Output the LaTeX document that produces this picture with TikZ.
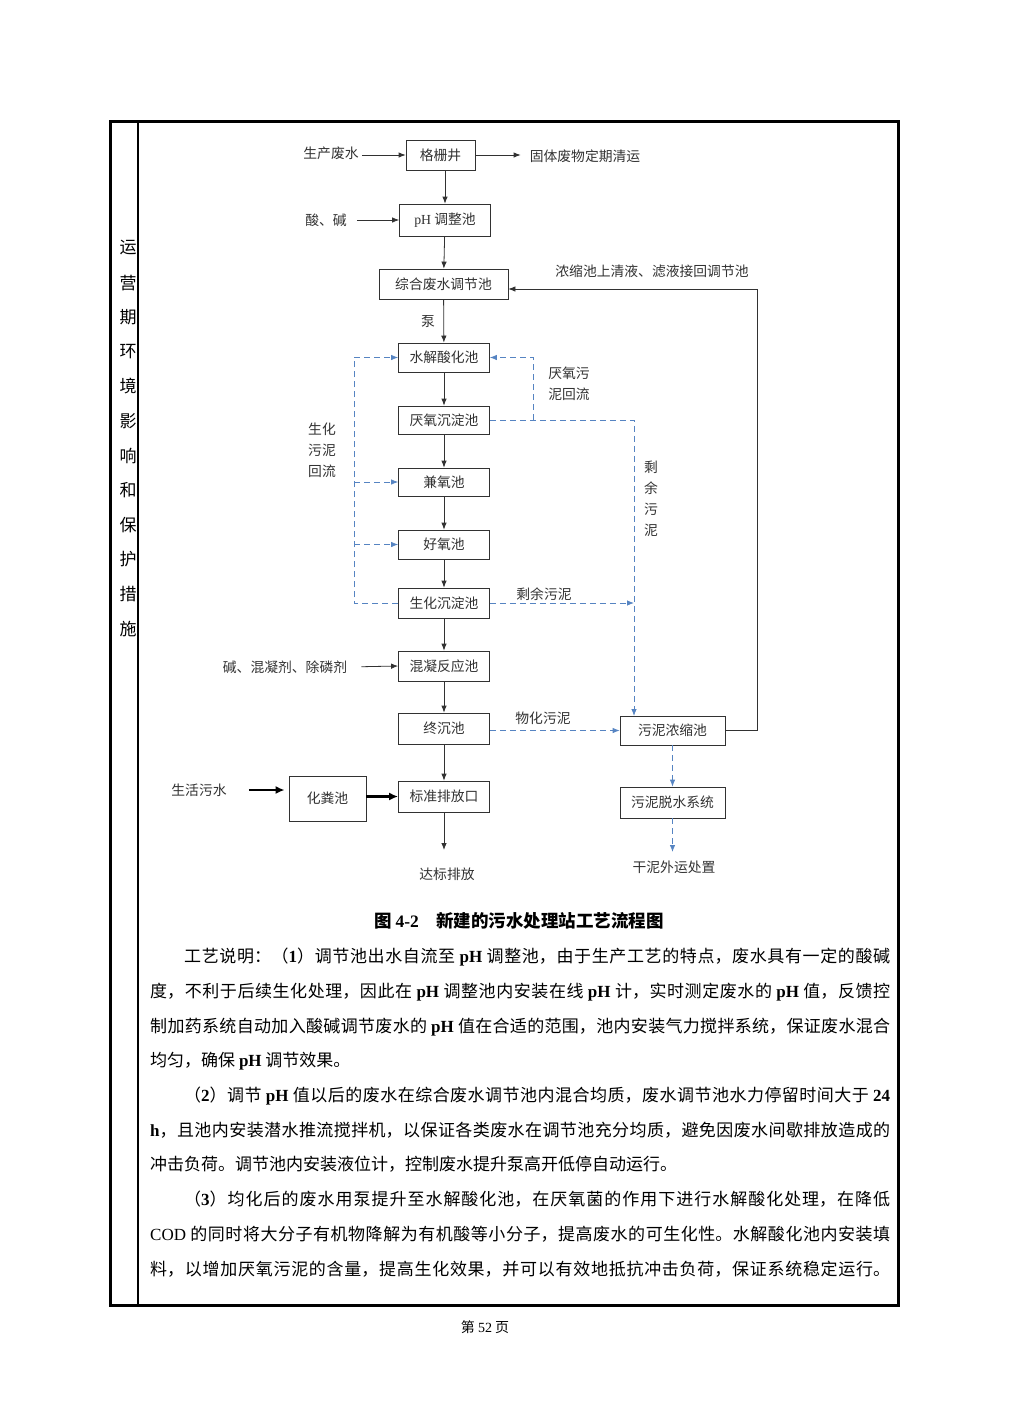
\documentclass[tikz,border=0pt]{standalone}
\usepackage{fontspec}
\setmainfont{Liberation Serif}
\newfontfamily\cjk{Noto Sans CJK SC}
\usetikzlibrary{
  arrows.meta,
  calc,
  positioning,
}
\XeTeXlinebreaklocale "zh"
\XeTeXlinebreakskip=0pt plus 2pt
\definecolor{sludgeblue}{RGB}{86,132,194}
\definecolor{inkgray}{RGB}{50,50,50}
\newcommand{\ph}{\textbf{\rmfamily pH}}
\tikzstyle{pool} = [
  draw=inkgray,
  line width=0.8pt,
  minimum width=91pt,
  minimum height=30pt,
  inner sep=0pt,
  text=inkgray,
  font=\cjk\fontsize{13.8}{16}\selectfont,
]
\tikzstyle{note} = [
  inner sep=0pt,
  text=inkgray,
  align=center,
  font=\cjk\fontsize{13.8}{21}\selectfont,
]
\tikzstyle{flow} = [
  -{Latex[length=7pt,width=5.5pt]},
  line width=0.8pt,
  inkgray,
]
\tikzstyle{thickflow} = [
  -{Latex[length=9pt,width=8pt]},
  line width=2.2pt,
  black,
]
\tikzstyle{sludge} = [
  -{Latex[length=7pt,width=5.5pt]},
  line width=0.8pt,
  sludgeblue,
  dash pattern=on 6pt off 4pt,
]

\begin{document}
\begin{tikzpicture}[x=1pt,y=-1pt]
  \useasboundingbox (0,0) rectangle (1009,1427);

  % table frame
  \draw [line width=3pt] (110,121) rectangle (898,1305);
  \draw [line width=1.4pt] (138,121) -- (138,1305);

  \foreach \c [count=\i from 0] in {运,营,期,环,境,影,响,和,保,护,措,施} {
    \node [inner sep=0pt, font=\cjk\fontsize{17}{20}\selectfont] (side\i) at (128,{248+34.6*\i}) {\c};
  }

  % pools
  \node [pool, minimum width=69pt] (gsj) at (440.5,155) {格栅井};
  \node [pool, minimum height=32pt] (tzc) at (445,220) {{\rmfamily pH} 调整池};
  \node [pool, minimum width=129pt] (tjc) at (443.5,284) {综合废水调节池};
  \node [pool, minimum height=29pt] (sjc) at (444,357.5) {水解酸化池};
  \node [pool, minimum height=28pt] (yyc) at (444,420) {厌氧沉淀池};
  \node [pool, minimum height=28pt] (jyc) at (444,482) {兼氧池};
  \node [pool, minimum height=29pt] (hyc) at (444,544.5) {好氧池};
  \node [pool] (shc) at (444,603) {生化沉淀池};
  \node [pool] (hnc) at (444,666) {混凝反应池};
  \node [pool, minimum height=31pt] (zcc) at (444,728.5) {终沉池};
  \node [pool, minimum height=31pt] (bzk) at (444,796.5) {标准排放口};
  \node [pool, minimum width=77pt, minimum height=45pt] (hfc) at (327.5,798.5) {化粪池};
  \node [pool, minimum width=105pt, minimum height=29pt] (nsc) at (672.5,730.5) {污泥浓缩池};
  \node [pool, minimum width=105pt, minimum height=31pt] (tsx) at (672.5,802.5) {污泥脱水系统};

  % notes
  \node [note] (scfs) at (331,153) {生产废水};
  \node [note] (gtfw) at (585,156) {固体废物定期清运};
  \node [note] (sj) at (326,220) {酸、碱};
  \node [note] (qyly) at (652,271) {浓缩池上清液、滤液接回调节池};
  \node [note] (beng) at (428,322) {泵};
  \node [note] (yyhl) at (569,384) {厌氧污\\泥回流};
  \node [note] (shhl) at (322,450) {生化\\污泥\\回流};
  \node [note] (sywn) at (651,498.5) {剩\\余\\污\\泥};
  \node [note] (shsy) at (544,594) {剩余污泥};
  \node [note] (jnj) at (285,667) {碱、混凝剂、除磷剂};
  \node [note] (whwn) at (543,718) {物化污泥};
  \node [note] (shws) at (199,790) {生活污水};
  \node [note] (dbpf) at (447,874) {达标排放};
  \node [note] (gnwy) at (674,867) {干泥外运处置};

  \coordinate (ret) at (757,289);
  \coordinate (yyfork) at (533,420);
  \coordinate (nsin) at (634,716);
  \coordinate (lft) at (354,357.5);
  \coordinate (bzout) at (444,850);
  \coordinate (tsout) at (672.5,852);

  % water line
  \draw [flow, shorten <=3pt] (gsj.west -| scfs.east) -- (gsj.west);
  \draw [flow, shorten >=9pt] (gsj.east) -- (gsj.east -| gtfw.west);
  \draw [flow] (tzc.north |- gsj.south) -- (tzc.north);
  \draw [flow, shorten <=10pt] (sj.east) -- (tzc.west);
  \foreach \a/\b in {tzc/tjc, tjc/sjc, sjc/yyc, yyc/jyc, jyc/hyc, hyc/shc, shc/hnc, hnc/zcc, zcc/bzk} {
    \draw [flow] (\a) -- (\b);
  }
  \draw [flow, shorten <=14pt] (jnj.east) -- (hnc.west);
  \draw [flow] (bzk) -- (bzout);
  \draw [flow] (nsc.east) -| (ret) -- (ret -| tjc.east);

  \draw [thickflow, shorten <=22pt, shorten >=4pt] (shws.east) -- (shws.east -| hfc.west);
  \draw [thickflow] (hfc.east |- bzk) -- (bzk.west);

  % sludge line
  \draw [sludge] (yyc.east) -| (nsin);
  \draw [sludge] (yyfork) |- (sjc.east);
  \draw [sludge] (shc.west) -| (lft) -- (sjc.west);
  \draw [sludge] (lft |- jyc) -- (jyc.west);
  \draw [sludge] (lft |- hyc) -- (hyc.west);
  \draw [sludge] (shc.east) -- (shc.east -| nsin);
  \draw [sludge] (nsc.west -| zcc.east) -- (nsc.west);
  \draw [sludge] (nsc) -- (tsx);
  \draw [sludge] (tsx) -- (tsout);

  % caption and text
  \node [inner sep=0pt, font=\cjk\bfseries\fontsize{17.5}{20}\selectfont] (cap) at (519,921)
        {图 {\rmfamily 4-2}\hspace{1em}新建的污水处理站工艺流程图};

  \node [anchor=north west, inner sep=0pt, text width=740pt, align=justify,
         font=\cjk\fontsize{17}{34.7}\selectfont] (desc) at (150,948)
  {\parskip=0pt\relax
   \hspace*{2em}工艺说明：（\textbf{\rmfamily 1}）调节池出水自流至 \ph{} 调整池，由于生产工艺的特点，废水具有一定的酸碱\linebreak
   度，不利于后续生化处理，因此在 \ph{} 调整池内安装在线 \ph{} 计，实时测定废水的 \ph{} 值，反馈控\linebreak
   制加药系统自动加入酸碱调节废水的 \ph{} 值在合适的范围，池内安装气力搅拌系统，保证废水混合\linebreak
   均匀，确保 \ph{} 调节效果。\par
   \hspace*{2em}（\textbf{\rmfamily 2}）调节 \ph{} 值以后的废水在综合废水调节池内混合均质，废水调节池水力停留时间大于 \textbf{\rmfamily 24}\linebreak
   \textbf{\rmfamily h}，且池内安装潜水推流搅拌机，以保证各类废水在调节池充分均质，避免因废水间歇排放造成的\linebreak
   冲击负荷。调节池内安装液位计，控制废水提升泵高开低停自动运行。\par
   \hspace*{2em}（\textbf{\rmfamily 3}）均化后的废水用泵提升至水解酸化池，在厌氧菌的作用下进行水解酸化处理，在降低\linebreak
   {\rmfamily COD} 的同时将大分子有机物降解为有机酸等小分子，提高废水的可生化性。水解酸化池内安装填\linebreak
   料，以增加厌氧污泥的含量，提高生化效果，并可以有效地抵抗冲击负荷，保证系统稳定运行。{\parfillskip=0pt\par}};

  \node [inner sep=0pt, font=\cjk\fontsize{14}{16}\selectfont] (page) at (485,1327) {第 {\rmfamily 52} 页};
\end{tikzpicture}
\end{document}
